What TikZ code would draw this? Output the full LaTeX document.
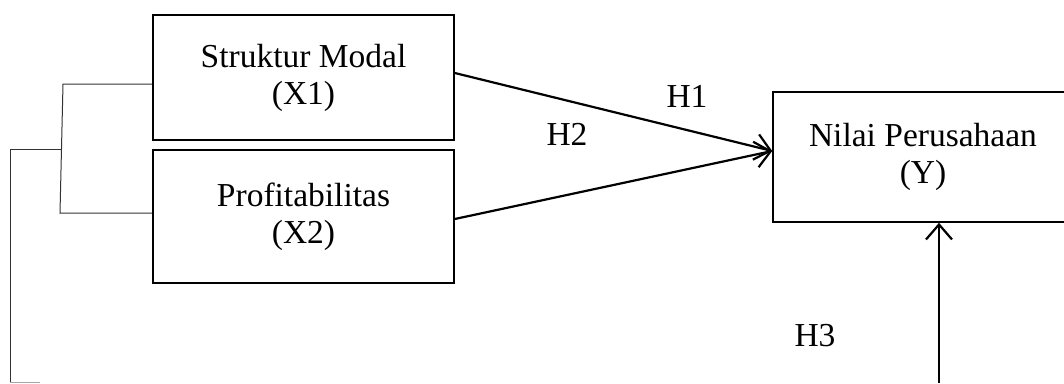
\documentclass[tikz,border=0pt]{standalone}
\usepackage{fontspec}
\setmainfont{Liberation Serif}
\usetikzlibrary{arrows.meta,calc}
\begin{document}
\begin{tikzpicture}[x=1pt,y=-1pt,
  varbox/.style={draw=black,line width=1.6pt,align=center,inner sep=0pt,
    font=\fontsize{33.5}{37}\selectfont},
  path/.style={line width=2.2pt,-{Straight Barb[length=15pt,width=26pt,line width=2.2pt]}},
  hlabel/.style={font=\fontsize{33.5}{37}\selectfont,inner sep=0pt},
  link/.style={draw=black!80,line width=1pt}]
\useasboundingbox (0,0) rectangle (1064,383);
% variables
\node[varbox,minimum width=301pt,minimum height=125pt] (X1) at (303.5,77.5) {Struktur Modal\\(X1)};
\node[varbox,minimum width=301pt,minimum height=133pt] (X2) at (303.5,216.5) {Profitabilitas\\(X2)};
\node[varbox,minimum width=300pt,minimum height=130pt] (Y) at (923,157) {Nilai Perusahaan\\(Y)};
% hypotheses
\coordinate (tip) at ($(Y.west)+(0,-6)$);
\draw[path] ($(X1.east)+(0,-4.5)$) -- (tip);
\draw[path] ($(X2.east)+(0,2.5)$) -- (tip);
\coordinate (h3base) at (939,383);
\draw[path] (h3base) -- (Y.south -| h3base);
\node[hlabel] (H1) at (687,96) {H1};
\node[hlabel] (H2) at (567,134) {H2};
\node[hlabel] (H3) at (815,336) {H3};
% bracket joining the independent variables
\coordinate (j1) at (63,84);
\coordinate (j2) at (60,213);
\coordinate (jm) at (62,149);
\coordinate (c1) at (10,149);
\coordinate (c2) at (10,382);
\coordinate (c3) at (40,382);
\draw[link] (X1.west |- j1) -- (j1) -- (j2) -- (X2.west |- j2);
\draw[link] (jm) -- (c1) -- (c2);
\draw[draw=black!35,line width=1pt] (c2) -- (c3);
\end{tikzpicture}
\end{document}
